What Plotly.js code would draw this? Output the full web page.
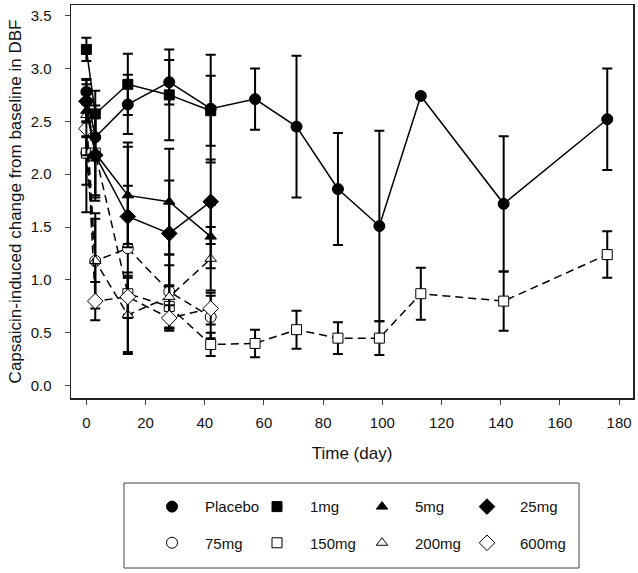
<!DOCTYPE html>
<html>
<head>
<meta charset="utf-8">
<script src="https://cdn.plot.ly/plotly-3.0.1.min.js"></script>
<style>
  body { margin: 0; background: #fff; }
  #chart { width: 638px; height: 573px; }
</style>
</head>
<body>
<div id="chart"></div>
<script>
// days of visits
const daysShort = [0, 3, 14, 28, 42];
const daysLong = [0, 3, 14, 28, 42, 57, 71, 85, 99, 113, 141, 176];

// mean change from baseline and error
const placeboY   = [2.78, 2.35, 2.66, 2.87, 2.62, 2.71, 2.45, 1.86, 1.51, 2.74, 1.72, 2.52];
const placeboErr = [0.12, 0.22, 0.28, 0.21, 0.51, 0.29, 0.67, 0.53, 0.90, 0.02, 0.64, 0.48];

const mg1Y   = [3.18, 2.57, 2.85, 2.75, 2.60];
const mg1Err = [0.11, 0.22, 0.29, 0.43, 0.33];

const mg5Y   = [2.60, 2.20, 1.80, 1.74, 1.41];
const mg5Err = [0.25, 0.45, 0.46, 0.50, 0.30];

const mg25Y   = [2.69, 2.18, 1.60, 1.44, 1.74];
const mg25Err = [0.20, 0.40, 0.29, 0.50, 0.40];

const mg75Y   = [2.20, 1.18, 1.30, 0.89, 0.65];
const mg75Err = [0.56, 0.40, 1.00, 0.35, 0.20];

const mg150Y   = [2.20, 2.20, 0.87, 0.75, 0.39, 0.40, 0.53, 0.45, 0.45, 0.87, 0.80, 1.24];
const mg150Err = [0.30, 0.40, 0.20, 0.20, 0.11, 0.13, 0.18, 0.15, 0.16, 0.245, 0.28, 0.22];

const mg200Y   = [2.56, 1.18, 0.67, 0.84, 1.20];
const mg200Err = [0.20, 0.45, 0.35, 0.30, 0.30];

const mg600Y   = [2.43, 0.80, 0.84, 0.64, 0.73];
const mg600Err = [0.25, 0.18, 0.20, 0.12, 0.15];

const seriesNames = ['Placebo', '1mg', '5mg', '25mg', '75mg', '150mg', '200mg', '600mg'];

const fontFamily = 'Arial, "Liberation Sans", sans-serif';

const markerSizes = {'circle': 11, 'square': 10, 'triangle-up': 10, 'diamond': 12};

function makeSeries(name, x, y, err, symbol, filled, dashed, legendId, lastInRow) {
    var lineTrace = {
        x: x,
        y: y,
        type: 'scatter',
        mode: 'lines',
        line: {color: '#000', width: 1.5, dash: dashed ? '8px,5px' : 'solid'},
        showlegend: false,
        hoverinfo: 'skip'
    };
    var markerTrace = {
        x: x,
        y: y,
        type: 'scatter',
        mode: 'markers',
        name: name,
        legend: legendId,
        marker: {
            symbol: symbol,
            size: markerSizes[symbol],
            color: filled ? '#000' : '#fff',
            line: {color: '#000', width: 1}
        },
        error_y: {
            type: 'data',
            array: err,
            visible: true,
            color: '#000',
            thickness: 2,
            width: 5
        }
    };
    //last item in a legend row gets room for its text
    if (lastInRow) {
        markerTrace.legendwidth = 70;
    }
    return [lineTrace, markerTrace];
}

// open (dashed) series first so the filled ones sit on top
var data = [].concat(
    makeSeries(seriesNames[4], daysShort, mg75Y, mg75Err, 'circle', false, true, 'legend2'),
    makeSeries(seriesNames[5], daysLong, mg150Y, mg150Err, 'square', false, true, 'legend2'),
    makeSeries(seriesNames[6], daysShort, mg200Y, mg200Err, 'triangle-up', false, true, 'legend2'),
    makeSeries(seriesNames[7], daysShort, mg600Y, mg600Err, 'diamond', false, true, 'legend2', true),
    makeSeries(seriesNames[0], daysLong, placeboY, placeboErr, 'circle', true, false, 'legend'),
    makeSeries(seriesNames[1], daysShort, mg1Y, mg1Err, 'square', true, false, 'legend'),
    makeSeries(seriesNames[2], daysShort, mg5Y, mg5Err, 'triangle-up', true, false, 'legend'),
    makeSeries(seriesNames[3], daysShort, mg25Y, mg25Err, 'diamond', true, false, 'legend', true)
);

var legendStyle = {
    orientation: 'h',
    xanchor: 'left',
    yanchor: 'middle',
    x: 0.121,
    bgcolor: 'rgba(0,0,0,0)',
    borderwidth: 0,
    itemwidth: 56,
    entrywidth: 34,
    traceorder: 'normal',
    font: {family: fontFamily, size: 15, color: '#111'}
};

var layout = {
    width: 638,
    height: 573,
    margin: {l: 71, r: 5, t: 5, b: 175},
    paper_bgcolor: '#fff',
    plot_bgcolor: '#fff',
    font: {family: fontFamily, size: 15, color: '#111'},
    showlegend: true,
    xaxis: {
        range: [-5.2, 184.7],
        dtick: 20,
        tick0: 0,
        ticks: 'outside',
        ticklen: 5,
        tickwidth: 1,
        ticklabelstandoff: 5,
        showline: true,
        mirror: true,
        linecolor: '#222',
        linewidth: 1.5,
        showgrid: false,
        zeroline: false,
        title: {text: 'Time (day)', font: {size: 17}, standoff: 17}
    },
    yaxis: {
        range: [-0.116, 3.6],
        dtick: 0.5,
        tick0: 0,
        tickformat: '.1f',
        ticks: 'outside',
        ticklen: 5,
        tickwidth: 1,
        ticklabelstandoff: 10,
        showline: true,
        mirror: true,
        linecolor: '#222',
        linewidth: 1.5,
        showgrid: false,
        zeroline: false,
        title: {text: 'Capsaicin-induced change from baseline in DBF', font: {size: 17}, standoff: 4}
    },
    legend: Object.assign({}, legendStyle, {y: -0.277}),
    legend2: Object.assign({}, legendStyle, {y: -0.369}),
    shapes: [{
        type: 'rect',
        xref: 'paper', yref: 'paper',
        x0: 0.0943, x1: 0.904,
        y0: -0.4326, y1: -0.2163,
        line: {color: '#444', width: 1}
    }]
};

Plotly.newPlot('chart', data, layout, {displayModeBar: false, staticPlot: true});
</script>
</body>
</html>
